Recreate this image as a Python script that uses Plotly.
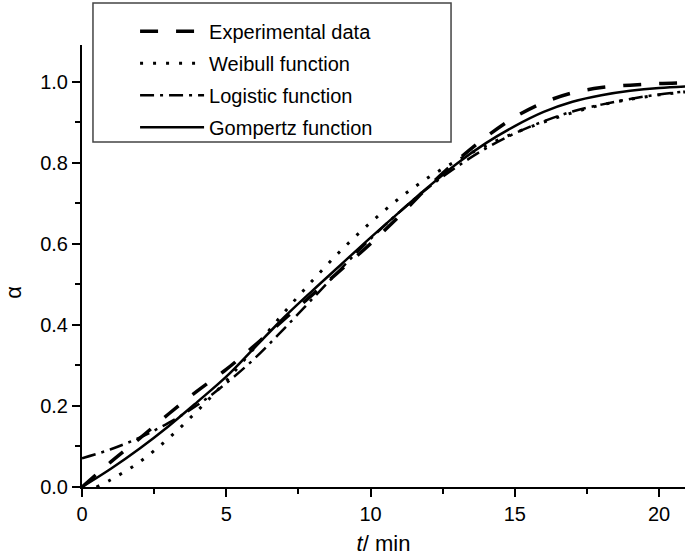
import plotly.graph_objects as go

# ---- data ----
t = [0, 1, 2, 3, 4, 5, 6, 7, 8, 9, 10, 11, 12, 13, 14, 15, 16, 17, 18, 19, 20, 21]
experimental = [0.0, 0.062, 0.12, 0.18, 0.237, 0.29, 0.35, 0.413, 0.475, 0.537, 0.6,
                0.668, 0.74, 0.805, 0.863, 0.912, 0.948, 0.972, 0.985, 0.991, 0.995, 0.997]
t_weibull = [0.5, 1, 2, 3, 4, 5, 6, 7, 8, 9, 10, 11, 12, 13, 14, 15, 16, 17, 18, 19, 20, 21]
weibull = [0.0, 0.018, 0.062, 0.12, 0.188, 0.262, 0.345, 0.43, 0.51, 0.585, 0.652,
           0.712, 0.763, 0.805, 0.842, 0.873, 0.9, 0.923, 0.942, 0.956, 0.967, 0.975]
logistic = [0.071, 0.093, 0.122, 0.158, 0.202, 0.256, 0.318, 0.39, 0.465, 0.54, 0.612,
            0.678, 0.738, 0.79, 0.835, 0.872, 0.902, 0.926, 0.943, 0.957, 0.968, 0.976]
gompertz = [0.0, 0.045, 0.095, 0.15, 0.21, 0.272, 0.345, 0.418, 0.485, 0.55, 0.615,
            0.678, 0.74, 0.798, 0.848, 0.89, 0.925, 0.95, 0.966, 0.977, 0.984, 0.988]

names = ["Experimental data", "Weibull function", "Logistic function", "Gompertz function"]
y_title = "α"
x_title = "<i>t</i>/ min"

FONT = "Liberation Sans, Arial, sans-serif"

fig = go.Figure()
fig.add_trace(go.Scatter(x=t, y=experimental, mode="lines", name=names[0], legendgroup="a",
                         line=dict(color="black", width=3.5, dash="18px,18px", shape="spline")))
fig.add_trace(go.Scatter(x=t_weibull, y=weibull, mode="lines", name=names[1], legendgroup="b",
                         line=dict(color="black", width=3, dash="3px,10px", shape="spline")))
fig.add_trace(go.Scatter(x=t, y=logistic, mode="lines", name=names[2], legendgroup="c",
                         line=dict(color="black", width=2.5, dash="14px,6px,3px,6px", shape="spline")))
fig.add_trace(go.Scatter(x=t, y=gompertz, mode="lines", name=names[3], legendgroup="d",
                         line=dict(color="black", width=2.5, shape="spline")))

# legend frame
fig.add_shape(type="rect", xref="paper", yref="paper",
              x0=0.0182, x1=0.612, y0=0.7805, y1=1.095,
              line=dict(color="#444", width=1.5), fillcolor="white", layer="below")

# y-axis title placed slightly below centre, as in the reference
fig.add_annotation(text=y_title, xref="paper", yref="paper", x=-0.114, y=0.44,
                   xanchor="center", yanchor="middle", textangle=-90, showarrow=False,
                   font=dict(family=FONT, size=22, color="black"))

fig.update_layout(
    width=685, height=556,
    margin=dict(l=82, r=0, t=45, b=69),
    paper_bgcolor="white", plot_bgcolor="white",
    font=dict(family=FONT, size=20, color="black"),
    showlegend=True,
    legend=dict(x=0.088, y=1.075, xanchor="left", yanchor="top",
                bgcolor="rgba(0,0,0,0)", borderwidth=0,
                font=dict(family=FONT, size=20, color="black"),
                itemwidth=64, tracegroupgap=3, traceorder="grouped"),
    xaxis=dict(range=[0, 20.9], dtick=5, tick0=0, showline=True, linecolor="black", linewidth=2,
               ticks="outside", ticklen=8, tickwidth=2, tickcolor="black",
               minor=dict(dtick=2.5, ticks="outside", ticklen=5, tickwidth=2, tickcolor="black"),
               showgrid=False, zeroline=False,
               title=dict(text=x_title, font=dict(family=FONT, size=22), standoff=13)),
    yaxis=dict(range=[0, 1.09], dtick=0.2, tick0=0, tickformat=".1f", showline=True,
               linecolor="black", linewidth=2,
               ticks="outside", ticklen=8, tickwidth=2, tickcolor="black",
               minor=dict(dtick=0.1, ticks="outside", ticklen=5, tickwidth=2, tickcolor="black"),
               showgrid=False, zeroline=False),
)

fig.write_html("out.html", config={"displayModeBar": False},
               post_script="document.body.style.margin='0';")
